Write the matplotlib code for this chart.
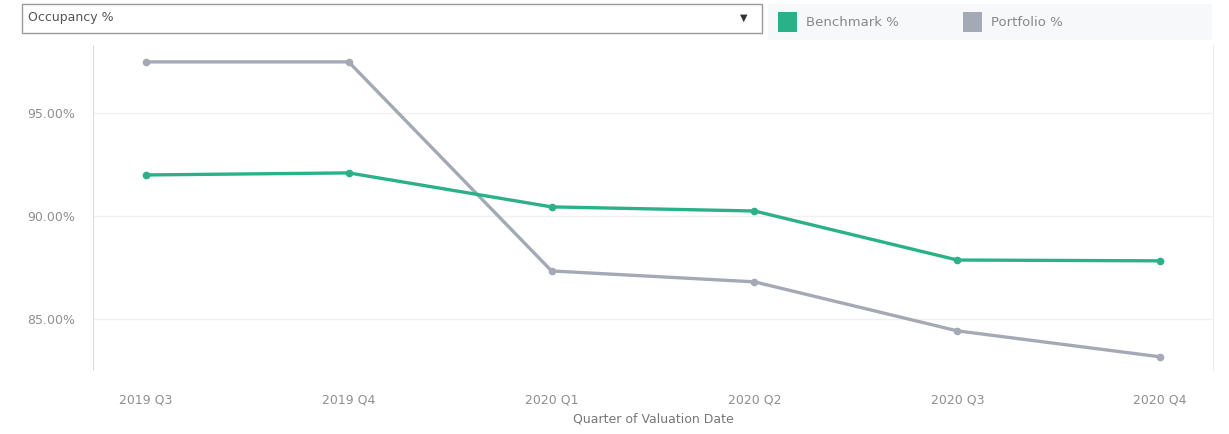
import matplotlib.pyplot as plt
from matplotlib.patches import Rectangle

# Occupancy by quarter
quarters = ['2019 Q3', '2019 Q4', '2020 Q1', '2020 Q2', '2020 Q3', '2020 Q4']
benchmark = [91.99, 92.09, 90.44, 90.24, 87.86, 87.82]
portfolio = [97.48, 97.48, 87.33, 86.80, 84.42, 83.16]
y_ticks = [85, 90, 95]

green = '#2bb187'
grey = '#a3aab6'
text_grey = '#8f8f8f'

plt.rcParams['font.family'] = ['DejaVu Sans']

fig = plt.figure(figsize=(12.29, 4.34), dpi=100)
W, H = 1229, 434

def fx(px):
    return px / W

def fy(py):
    return 1 - py / H

ax = fig.add_axes([fx(93), fy(370), fx(1213) - fx(93), fy(45) - fy(370)])

x = list(range(len(quarters)))
ax.plot(x, portfolio, color=grey, lw=2.4, marker='o', ms=4.5, zorder=3)
ax.plot(x, benchmark, color=green, lw=2.4, marker='o', ms=4.5, zorder=4)

ax.set_xlim(-0.26, 5.26)
ax.set_ylim(82.52, 98.3)
ax.set_yticks(y_ticks)
ax.set_yticklabels([f'{v:.2f}%' for v in y_ticks])
ax.set_xticks(x)
ax.set_xticklabels(quarters)
ax.tick_params(length=0, labelsize=9, colors=text_grey, pad=13)
ax.tick_params(axis='x', pad=17)
ax.grid(axis='y', color='#f0f0f0', lw=1)
ax.set_axisbelow(True)
for s in ['top', 'bottom']:
    ax.spines[s].set_visible(False)
ax.spines['left'].set_color('#dcdcdc')
ax.spines['right'].set_color('#ececec')
ax.set_xlabel('Quarter of Valuation Date', fontsize=9, color='#777777', labelpad=4)

# measure selector box
fig.patches.append(Rectangle((fx(22), fy(33)), fx(762) - fx(22), fy(4) - fy(33),
                             transform=fig.transFigure, fill=False, ec='#9a9a9a', lw=1))
fig.text(fx(28), fy(18), 'Occupancy %', fontsize=9, color='#555555', va='center')
fig.text(fx(744), fy(18), '▼', fontsize=7, color='#333333', va='center', ha='center')

# legend strip
fig.patches.append(Rectangle((fx(768), fy(40)), fx(1212) - fx(768), fy(4) - fy(40),
                             transform=fig.transFigure, fc='#f6f8fa', ec='none'))
fig.patches.append(Rectangle((fx(778), fy(32)), fx(19), fy(12) - fy(32),
                             transform=fig.transFigure, fc=green, ec='none'))
fig.text(fx(806), fy(23), 'Benchmark %', fontsize=9.5, color='#888888', va='center')
fig.patches.append(Rectangle((fx(963), fy(32)), fx(19), fy(12) - fy(32),
                             transform=fig.transFigure, fc=grey, ec='none'))
fig.text(fx(991), fy(23), 'Portfolio %', fontsize=9.5, color='#888888', va='center')

fig.savefig('out.png', dpi=100, facecolor='white')
